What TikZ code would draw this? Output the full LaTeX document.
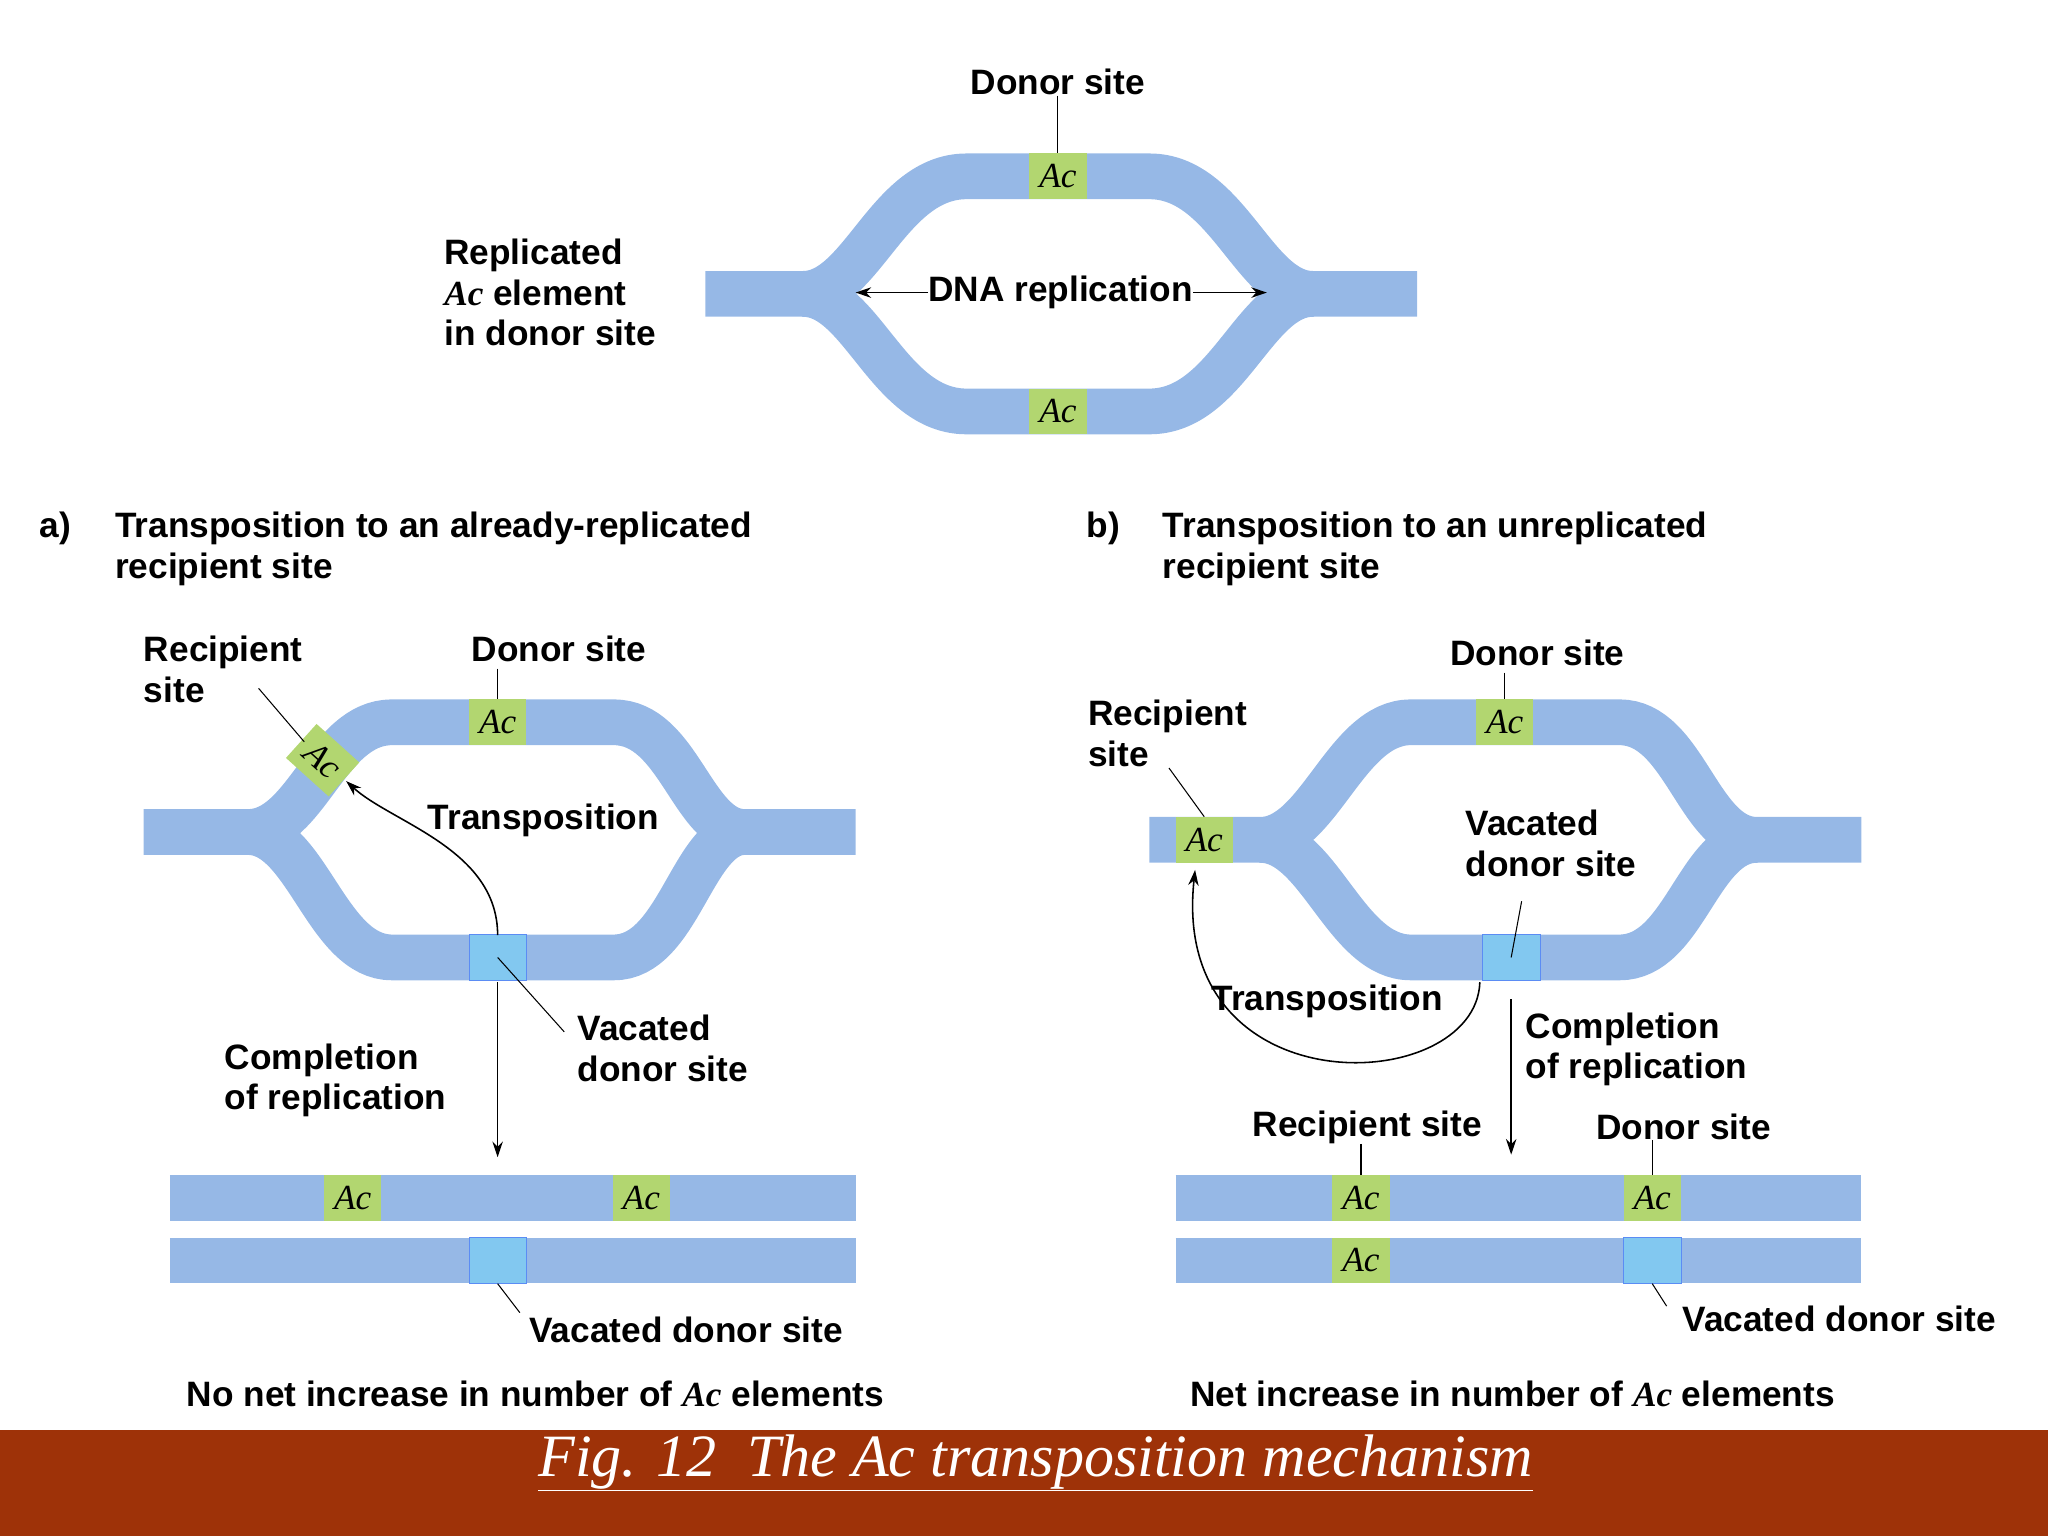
\documentclass[tikz,border=0pt]{standalone}
\usepackage{fontspec}
\setmainfont{Liberation Sans}
\newfontfamily\serifit{Liberation Serif}
\usetikzlibrary{arrows.meta}
\definecolor{dna}{RGB}{150,184,230}
\definecolor{acg}{RGB}{178,214,112}
\definecolor{vac}{RGB}{130,200,240}
\definecolor{band}{RGB}{158,50,8}
\newcommand{\Ac}{{\serifit\itshape Ac}}
\tikzset{
 strand/.style={line width=35pt,draw=dna},
 acbox/.style={fill=acg,minimum width=44pt,minimum height=35pt,inner sep=0pt,font=\fontsize{27}{28}\selectfont\serifit\itshape},
 vacbox/.style={fill=vac,draw=vac!70!blue,line width=0.6pt,minimum width=44pt,minimum height=35pt,inner sep=0pt},
 lbl/.style={font=\fontsize{27}{31}\selectfont\bfseries,align=left,inner sep=0pt},
 lead/.style={draw=black,line width=0.8pt},
 arr/.style={draw=black,line width=1.2pt,-{Stealth[length=12pt,width=8pt]}}
}
\newcommand{\dstrand}[1]{\draw[strand] #1;}
\begin{document}
\begin{tikzpicture}[x=1pt,y=-1pt]
\useasboundingbox (0,0) rectangle (1568,1176);
% top bubble
\dstrand{(540,225) -- (615,225) .. controls (660,225) and (680,135) .. (740,135) -- (880,135) .. controls (940,135) and (960,225) .. (1005,225) -- (1085,225)}
\dstrand{(615,225) .. controls (660,225) and (680,315) .. (740,315) -- (880,315) .. controls (940,315) and (960,225) .. (1005,225)}
\node[acbox] (t1) at (810,135) {Ac};
\node[acbox] (t2) at (810,315) {Ac};
\node[lbl] (tdon) at (810,63) {Donor site};
\draw[lead] (tdon.south) -- (t1.north);
\node[lbl,anchor=north west] (trep) at (340,183) {Replicated\\\Ac{} element\\in donor site};
\node[lbl] (tdna) at (812,224) {DNA replication};
\coordinate (tl) at (655,224); \coordinate (tr) at (970,224);
\draw[arr] (tdna.west) -- (tl);
\draw[arr] (tdna.east) -- (tr);
% headings
\node[lbl,anchor=north west] (ha) at (30,392) {a)};
\node[lbl,anchor=north west] (hat) at (88,392) {Transposition to an already-replicated\\recipient site};
\node[lbl,anchor=north west] (hb) at (832,392) {b)};
\node[lbl,anchor=north west] (hbt) at (890,392) {Transposition to an unreplicated\\recipient site};
% panel a bubble
\dstrand{(110,637) -- (190,637) .. controls (235,637) and (250,553) .. (300,553) -- (470,553) .. controls (520,553) and (530,637) .. (570,637) -- (655,637)}
\dstrand{(190,637) .. controls (235,637) and (250,733) .. (300,733) -- (470,733) .. controls (520,733) and (530,637) .. (570,637)}
\node[acbox,rotate=-42] (ar) at (247,582) {Ac};
\node[acbox] (ad) at (381,553) {Ac};
\node[vacbox] (av) at (381,733) {};
\node[lbl,anchor=north west] (arl) at (110,487) {Recipient\\site};
\draw[lead] (198,527) -- (233,568);
\node[lbl] (adl) at (428,497) {Donor site};
\draw[lead] (381,512) -- (ad.north);
\node[lbl] (atr) at (416,628) {Transposition};
\draw[arr] (381,716) .. controls (381,650) and (300,630) .. (265,598);
\node[lbl,anchor=north west] (avl) at (442,777) {Vacated\\donor site};
\draw[lead] (432,790) -- (av.center);
\node[lbl,anchor=north west] (acl) at (172,799) {Completion\\of replication};
\coordinate (aend) at (381,886);
\draw[arr] (381,752) -- (aend);
\dstrand{(130,917) -- (655,917)}
\dstrand{(130,965) -- (655,965)}
\node[acbox] (ab1) at (270,917) {Ac};
\node[acbox] (ab2) at (491,917) {Ac};
\node[vacbox] (abv) at (381,965) {};
\node[lbl,anchor=west] (abvl) at (405,1018) {Vacated donor site};
\draw[lead] (abv.south) -- (398,1005);
\node[lbl] (an) at (410,1067) {No net increase in number of \Ac{} elements};
% panel b bubble
\dstrand{(880,643) -- (965,643) .. controls (1010,643) and (1030,553) .. (1080,553) -- (1240,553) .. controls (1290,553) and (1300,643) .. (1345,643) -- (1425,643)}
\dstrand{(965,643) .. controls (1010,643) and (1030,733) .. (1080,733) -- (1240,733) .. controls (1290,733) and (1300,643) .. (1345,643)}
\node[acbox] (br) at (922,643) {Ac};
\node[acbox] (bd) at (1152,553) {Ac};
\node[vacbox] (bv) at (1157,733) {};
\node[lbl,anchor=north west] (brl) at (833,536) {Recipient\\site};
\draw[lead] (895,588) -- (br.north);
\node[lbl] (bdl) at (1177,500) {Donor site};
\draw[lead] (1152,515) -- (bd.north);
\node[lbl,anchor=north west] (bvl) at (1122,620) {Vacated\\donor site};
\draw[lead] (1165,690) -- (bv.center);
\node[lbl] (btr) at (1016,767) {Transposition};
\draw[arr] (1133,752) .. controls (1130,840) and (895,850) .. (915,666);
\node[lbl,anchor=north west] (bcl) at (1168,775) {Completion\\of replication};
\coordinate (bend) at (1157,884);
\draw[arr] (1157,765) -- (bend);
\node[lbl] (brs) at (1047,863) {Recipient site};
\node[lbl] (bds) at (1289,863) {Donor site};
\dstrand{(900,917) -- (1425,917)}
\dstrand{(900,965) -- (1425,965)}
\node[acbox] (bb1) at (1042,917) {Ac};
\node[acbox] (bb2) at (1042,965) {Ac};
\node[acbox] (bb3) at (1265,917) {Ac};
\node[vacbox] (bbv) at (1265,965) {};
\draw[lead] (brs.south -| bb1) -- (bb1.north);
\draw[lead] (bds.south -| bb3) -- (bb3.north);
\node[lbl,anchor=west] (bbvl) at (1288,1010) {Vacated donor site};
\draw[lead] (bbv.south) -- (1276,1000);
\node[lbl] (bn) at (1158,1067) {Net increase in number of \Ac{} elements};
% band
\fill[band] (0,1095) rectangle (1568,1176);
\node[font=\fontsize{46}{50}\selectfont\serifit\itshape,text=white] (cap) at (793,1120) {\underline{Fig. 12\ \ The Ac transposition mechanism}};
\end{tikzpicture}
\end{document}
